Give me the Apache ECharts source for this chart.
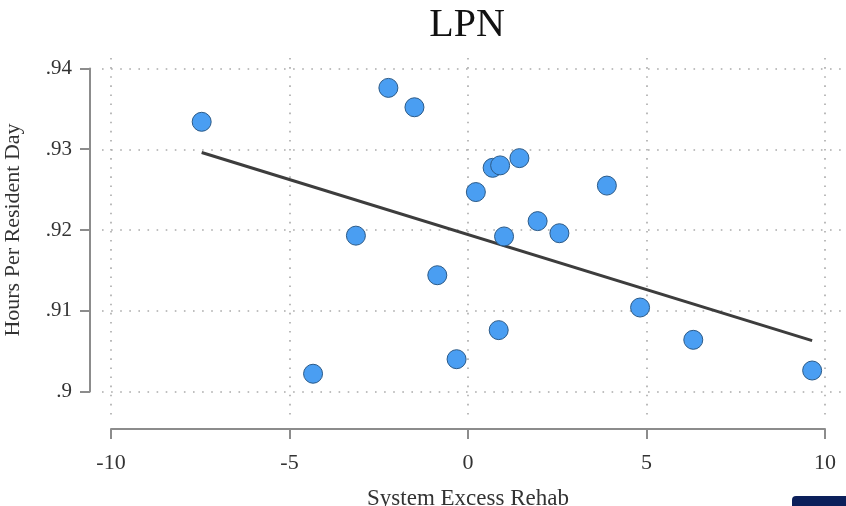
<!DOCTYPE html>
<html>
<head>
<meta charset="utf-8">
<title>LPN</title>
<script src="https://cdn.jsdelivr.net/npm/echarts@6/dist/echarts.min.js"></script>
<style>
  html, body { margin: 0; padding: 0; background: #fff; }
  #main { width: 846px; height: 506px; }
</style>
</head>
<body>
<div id="main"></div>
<script>
// data
var xValues = [-7.46, -2.23, -1.50, -3.14, -4.34, -0.86, -0.32, 0.22, 0.69, 0.90,
               1.44, 1.01, 0.86, 1.95, 2.56, 3.89, 3.21, 4.82, 6.31, 9.64];
var yValues = [0.9334, 0.9376, 0.9352, 0.9193, 0.9022, 0.9144, 0.9040, 0.9247, 0.9277, 0.9280,
               0.9289, 0.9192, 0.9076, 0.9211, 0.9196, 0.9255, 0.8979, 0.9104, 0.9064, 0.9026];
var fitX = [-7.46, 9.64];
var fitY = [0.9296, 0.9063];
var xTicks = [-10, -5, 0, 5, 10];
var yTicks = [0.90, 0.91, 0.92, 0.93, 0.94];

var points = [];
for (var i = 0; i < xValues.length; i++) {
    points.push([xValues[i], yValues[i]]);
}
var fitLine = [];
for (var j = 0; j < fitX.length; j++) {
    fitLine.push([fitX[j], fitY[j]]);
}

var serif = '"Liberation Serif", "DejaVu Serif", serif';
var axisGray = '#8c8c8c';

function yFmt(v) {
    // Stata style: .94, .9
    var s = String(Math.round(v * 100) / 100);
    return s.replace(/^0/, '');
}

var myChart = echarts.init(document.getElementById('main'));
var option = {
    animation: false,
    backgroundColor: '#fff',
    title: {
        text: 'LPN',
        left: 462,
        textAlign: 'center',
        top: 0,
        textStyle: { fontFamily: serif, fontSize: 40, fontWeight: 'normal', color: '#111' }
    },
    grid: [
        // data + axes
        { left: 111, right: 21, top: 68.5, bottom: 114.5, outerBoundsMode: 'none', containLabel: false },
        // dotted background grid (plot region)
        { left: 102, right: 4, top: 58, bottom: 87, outerBoundsMode: 'none', containLabel: false }
    ],
    xAxis: [{
        gridIndex: 0,
        type: 'value',
        min: -10, max: 10, interval: 5,
        offset: 37.5,
        name: 'System Excess Rehab',
        nameLocation: 'middle',
        nameGap: 58,
        nameTextStyle: { fontFamily: serif, fontSize: 23, color: '#333' },
        axisLine: { show: true, onZero: false, lineStyle: { color: axisGray, width: 2 } },
        axisTick: { show: true, length: 10, lineStyle: { color: axisGray, width: 2 }, customValues: xTicks },
        axisLabel: { fontFamily: serif, fontSize: 22, color: '#333', margin: 23, customValues: xTicks },
        splitLine: { show: false }
    }, {
        gridIndex: 1,
        type: 'value',
        min: -10.252, max: 10.476,
        axisLine: { show: false, onZero: false },
        axisTick: { show: false, customValues: xTicks },
        axisLabel: { show: false, customValues: xTicks },
        splitLine: { show: true, lineStyle: { color: '#aaa', width: 1.6, type: [1.6, 7.5] } }
    }],
    yAxis: [{
        gridIndex: 0,
        type: 'value',
        min: 0.9, max: 0.94, interval: 0.01,
        offset: 21,
        name: 'Hours Per Resident Day',
        nameLocation: 'middle',
        nameGap: 66,
        nameTextStyle: { fontFamily: serif, fontSize: 22, color: '#333' },
        axisLine: { show: true, onZero: false, lineStyle: { color: axisGray, width: 2 } },
        axisTick: { show: true, length: 10, lineStyle: { color: axisGray, width: 2 }, customValues: yTicks },
        axisLabel: { fontFamily: serif, fontSize: 21, color: '#333', margin: 18, formatter: yFmt, customValues: yTicks },
        splitLine: { show: false }
    }, {
        gridIndex: 1,
        type: 'value',
        min: 0.8966, max: 0.9413,
        axisLine: { show: false, onZero: false },
        axisTick: { show: false, customValues: yTicks },
        axisLabel: { show: false, customValues: yTicks },
        splitLine: { show: true, lineStyle: { color: '#aaa', width: 1.6, type: [1.6, 7.5] } }
    }],
    series: [{
        name: 'fit',
        type: 'line',
        xAxisIndex: 0, yAxisIndex: 0,
        data: fitLine,
        symbol: 'none',
        lineStyle: { color: '#3d3d3d', width: 3 },
        z: 2
    }, {
        name: 'LPN',
        type: 'scatter',
        xAxisIndex: 0, yAxisIndex: 0,
        data: points,
        symbolSize: 19,
        itemStyle: { color: '#4a9ef2', borderColor: '#2b5a88', borderWidth: 1, opacity: 1 },
        z: 3
    }],
    graphic: [{
        type: 'rect',
        shape: { x: 792, y: 496, width: 60, height: 14, r: [4, 0, 0, 0] },
        style: { fill: '#0b1f5a' },
        z: 10
    }]
};
myChart.setOption(option);
</script>
</body>
</html>
